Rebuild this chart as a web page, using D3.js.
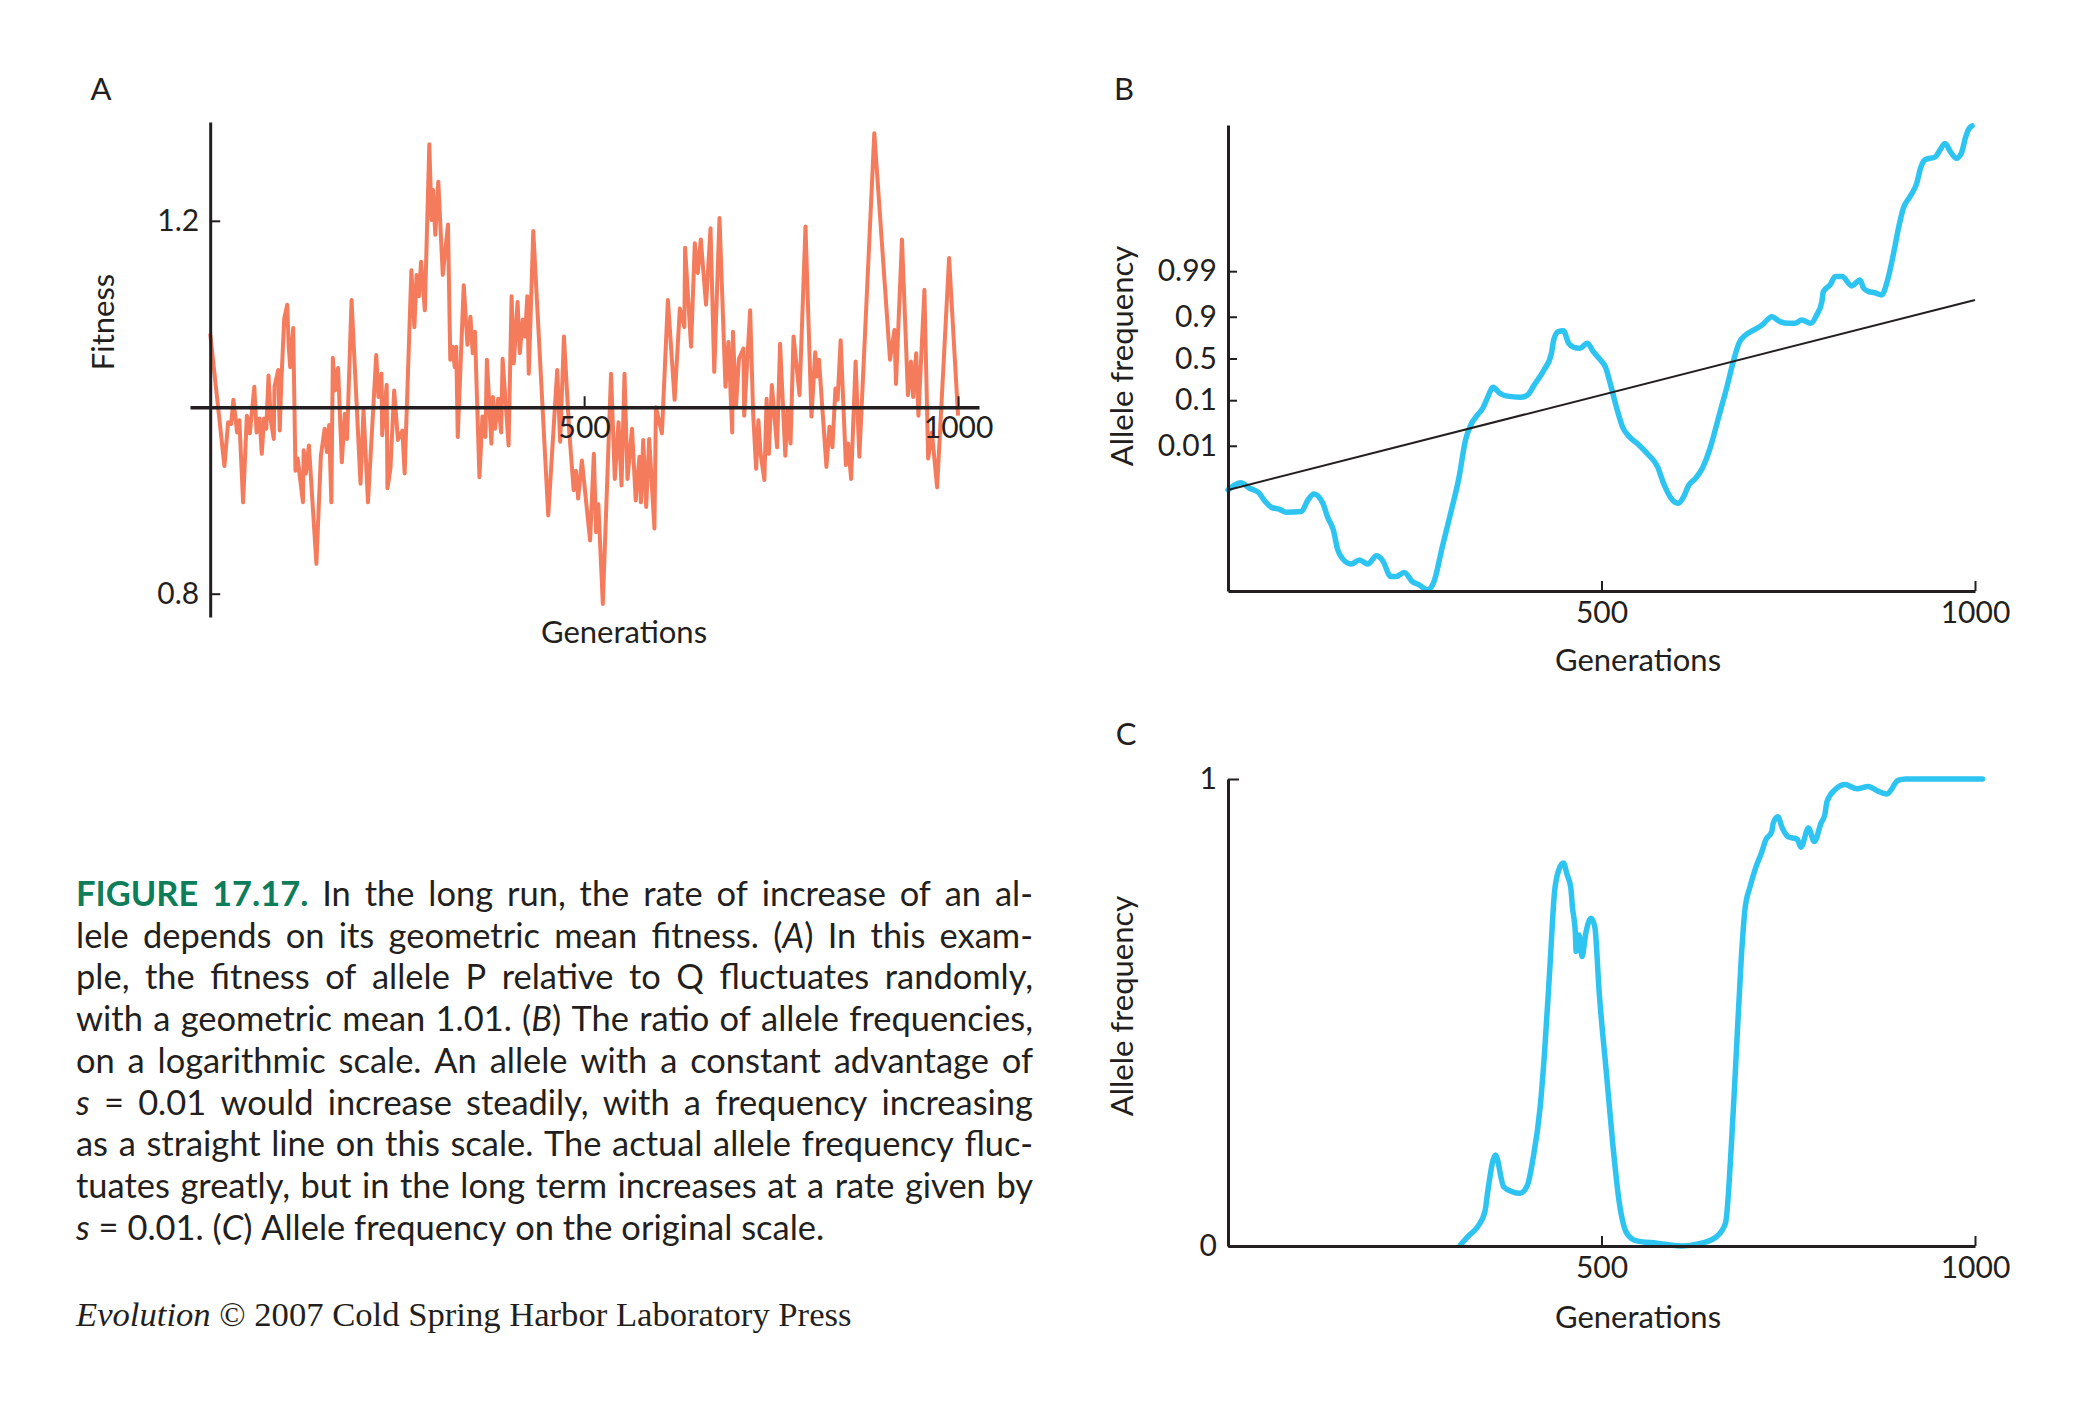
<!DOCTYPE html>
<html>
<head>
<meta charset="utf-8">
<script src="https://cdn.jsdelivr.net/npm/d3@7"></script>
<style>
  body { margin: 0; background: #fff; }
  svg text { font-family: Lato, "Open Sans", sans-serif; fill: #231f20; }
  .axis path, .axis line { stroke: #231f20; }
  .axis text { font-family: Lato, "Open Sans", sans-serif; font-size: 30px; fill: #231f20; }
</style>
</head>
<body>
<svg id="fig" width="2085" height="1413"></svg>
<script>
// panel A: relative fitness of P
const fitnessGen = [0,19,24,28,31,36,39,44,49,53,59,62,66,69,72,75,78,81,85,86,91,93,95,99,103,105,107,111,114,117,
  120,124,125,128,132,142,148,153,156,159,162,164,167,171,176,180,183,189,201,205,211,222,225,229,230,236,237,241,246,251,
  257,260,269,273,276,279,282,287,293,296,298,301,305,311,318,321,324,327,329,331,339,344,348,351,354,360,364,368,370,376,
  378,381,385,389,391,399,403,406,411,414,418,421,424,426,432,452,464,468,473,480,486,489,492,497,508,
  513,516,519,525,536,541,546,550,554,558,564,569,574,576,579,583,587,594,596,604,612,621,628,634,635,643,648,652,656,663,
  669,674,681,689,693,698,699,703,707,713,714,722,726,730,733,736,741,744,747,751,758,762,
  769,772,776,780,784,788,796,804,809,811,814,824,828,832,836,839,843,850,853,857,863,868,888,909,915,917,925,933,937,940,
  944,947,955,960,965,972,988,1000];
const fitness = [1.079,0.937,0.984,0.982,1.008,0.973,0.986,0.898,0.991,0.972,1.022,0.973,0.988,0.950,0.988,0.977,1.034,0.986,0.966,1.022,
  1.040,0.975,1.025,1.095,1.110,1.065,1.043,1.085,0.932,0.945,0.925,0.898,0.954,0.929,0.959,0.832,0.948,0.977,0.952,0.981,
  0.898,1.053,1.018,1.042,0.941,0.993,0.966,1.115,0.918,0.997,0.898,1.056,1.011,1.036,0.970,1.024,0.913,0.934,1.018,0.965,
  0.975,0.929,1.147,1.086,1.142,1.119,1.156,1.104,1.282,1.201,1.233,1.185,1.242,1.142,1.196,1.051,1.065,1.043,1.065,0.968,
  1.131,1.067,1.097,1.058,1.081,0.925,0.990,0.968,1.051,0.961,1.011,0.977,1.009,0.973,1.052,0.959,1.119,1.047,1.113,1.058,
  1.094,1.076,1.119,1.036,1.189,0.884,1.040,0.963,1.076,0.975,0.911,0.932,0.902,0.943,0.857,
  0.950,0.866,0.896,0.789,1.036,0.923,0.984,0.916,1.036,0.923,0.977,0.900,0.947,0.898,0.965,0.893,0.966,0.870,1.000,0.972,
  1.115,1.008,1.106,1.086,1.171,1.065,1.176,1.144,1.180,1.110,1.192,1.038,1.203,1.022,1.070,0.973,1.081,1.000,1.052,1.063,
  0.991,1.104,0.993,0.934,0.986,0.950,0.922,1.009,0.950,1.024,0.957,1.068,
  0.948,0.997,0.961,1.076,1.045,1.013,1.194,0.990,1.059,1.033,1.051,0.936,0.979,0.957,1.020,1.008,1.072,0.938,0.961,0.923,
  1.049,0.947,1.294,1.051,1.083,1.025,1.180,1.013,1.049,1.011,1.058,0.991,1.126,0.945,0.973,0.914,1.160,0.991];

// panel B: ln(p/q), the log ratio of allele frequencies
const ratioGen = [0,17,29,41,50,58,69,78,98,107,115,127,133,141,147,153,165,176,187,199,207,218,225,236,247,256,267,275,287,298,
  309,318,325,334,341,347,355,363,372,392,401,410,423,433,436,442,449,456,463,471,481,489,499,505,514,521,528,537,550,563,
  575,583,595,603,610,617,626,635,646,657,668,677,684,693,704,715,728,739,751,759,768,780,788,795,797,806,813,822,835,846,
  851,858,866,875,883,891,898,904,913,922,927,933,947,953,960,967,975,982,987,991,996];
const logRatio = [-6.92,-6.54,-6.83,-7.06,-7.54,-7.83,-7.94,-8.10,-8.06,-7.45,-7.13,-7.62,-8.32,-9.03,-10.08,-10.52,-10.82,-10.61,-10.82,-10.39,
  -10.64,-11.48,-11.48,-11.27,-11.75,-11.92,-12.18,-11.83,-9.90,-8.15,-6.31,-4.29,-3.50,-2.97,-2.62,-2.10,-1.52,-1.80,-1.97,-2.04,
  -1.92,-1.39,-0.61,0.27,0.97,1.41,1.46,0.80,0.59,0.54,0.80,0.36,-0.10,-0.43,-1.66,-2.71,-3.59,-4.11,-4.55,-5.08,
  -5.69,-6.57,-7.45,-7.62,-7.27,-6.66,-6.31,-5.78,-4.64,-3.06,-1.48,-0.08,0.80,1.24,1.50,1.76,2.20,1.94,1.85,1.85,
  2.03,1.85,2.29,2.99,3.52,3.87,4.31,4.31,3.82,4.13,3.69,3.52,3.46,3.34,4.13,5.54,6.94,7.90,8.52,9.22,
  10.01,10.45,10.62,10.97,11.32,10.89,10.54,10.83,11.59,12.03,12.24];
// constant advantage s = 0.01
const expectedGen = [0, 1000];
const expectedLogRatio = [-6.92, 3.08];

// panel C: allele frequency on the original scale
const freqGen = [311,321,334,344,348,358,369,381,391,401,408,418,424,431,437,443,449,454,459,461,
  465,466,470,474,479,486,491,497,507,515,524,534,547,574,607,634,654,666,674,680,
  687,692,699,707,714,720,728,730,736,742,750,762,767,777,785,794,799,802,814,826,
  842,857,870,882,897,907,1010];
const freq = [0.002,0.020,0.041,0.074,0.120,0.195,0.127,0.116,0.113,0.131,0.184,0.299,0.420,0.599,0.756,0.806,0.820,0.795,0.766,0.727,
  0.670,0.631,0.666,0.620,0.670,0.702,0.684,0.541,0.363,0.220,0.091,0.027,0.011,0.006,0.000,0.006,0.020,0.049,0.220,0.399,
  0.613,0.720,0.770,0.813,0.841,0.870,0.888,0.906,0.919,0.895,0.876,0.871,0.854,0.895,0.866,0.906,0.924,0.952,0.979,0.988,
  0.979,0.984,0.974,0.968,0.997,1.0,1.0];

const fitnessTicks = [0.8, 1.2];
const genTicks = [500, 1000];
const ratioTicks = [0.01, 0.1, 0.5, 0.9, 0.99];
const freqTicks = [0, 1];

const captionLines = [
  "#FIGURE 17.17.# In the long run, the rate of increase of an al-",
  "lele depends on its geometric mean fitness. (*A*) In this exam-",
  "ple, the fitness of allele P relative to Q fluctuates randomly,",
  "with a geometric mean 1.01. (*B*) The ratio of allele frequencies,",
  "on a logarithmic scale. An allele with a constant advantage of",
  "*s* = 0.01 would increase steadily, with a frequency increasing",
  "as a straight line on this scale. The actual allele frequency fluc-",
  "tuates greatly, but in the long term increases at a rate given by",
  "*s* = 0.01. (*C*) Allele frequency on the original scale."
];

const orange = "#f47c5c";
const blue = "#2ec4f2";
const ink = "#231f20";
const green = "#0d7d5a";

const svg = d3.select("#fig");
const logit = p => Math.log(p / (1 - p));
const genFormat = d3.format("d");

// ---------- panel A ----------
const xA = d3.scaleLinear().domain([-27, 1028]).range([190, 979]);
const yA = d3.scaleLinear().domain([0.775, 1.306]).range([617, 122]);

svg.append("path")
  .datum(fitnessGen.map((g, i) => [g, fitness[i]]))
  .attr("fill", "none")
  .attr("stroke", orange)
  .attr("stroke-width", 4)
  .attr("stroke-linejoin", "round")
  .attr("d", d3.line().x(d => xA(d[0])).y(d => yA(d[1])));

const axA = svg.append("g").attr("class", "axis")
  .attr("transform", `translate(${xA(0)},0)`)
  .call(d3.axisRight(yA).tickValues(fitnessTicks).tickFormat(d3.format(".1f")).tickSize(10).tickSizeOuter(0));
axA.select(".domain").attr("stroke-width", 3);
axA.selectAll(".tick line").attr("stroke-width", 2);
axA.selectAll(".tick text").attr("x", -11).attr("text-anchor", "end");

const bxA = svg.append("g").attr("class", "axis")
  .attr("transform", `translate(0,${yA(1)})`)
  .call(d3.axisBottom(xA).tickValues(genTicks).tickFormat(genFormat).tickSize(-11).tickPadding(9).tickSizeOuter(0));
bxA.select(".domain").attr("stroke-width", 3.5);
bxA.selectAll(".tick line").attr("stroke-width", 2);

// ---------- panel B ----------
const xB = d3.scaleLinear().domain([0, 1000]).range([1228, 1975]);
const yB = d3.scaleLinear().domain([-12.24, 12.29]).range([591, 125]);

svg.append("path")
  .datum(ratioGen.map((g, i) => [g, logRatio[i]]))
  .attr("fill", "none")
  .attr("stroke", blue)
  .attr("stroke-width", 5.5)
  .attr("stroke-linecap", "round")
  .attr("d", d3.line().curve(d3.curveMonotoneX).x(d => xB(d[0])).y(d => yB(d[1])));

svg.append("path")
  .datum(expectedGen.map((g, i) => [g, expectedLogRatio[i]]))
  .attr("fill", "none")
  .attr("stroke", ink)
  .attr("stroke-width", 2)
  .attr("d", d3.line().x(d => xB(d[0])).y(d => yB(d[1])));

const ayB = svg.append("g").attr("class", "axis")
  .attr("transform", `translate(${xB(0)},0)`)
  .call(d3.axisRight(yB).tickValues(ratioTicks.map(logit))
    .tickFormat((d, i) => String(ratioTicks[i])).tickSize(9).tickSizeOuter(0));
ayB.select(".domain").attr("stroke-width", 3);
ayB.selectAll(".tick line").attr("stroke-width", 2);
ayB.selectAll(".tick text").attr("x", -11).attr("text-anchor", "end");

const axB = svg.append("g").attr("class", "axis")
  .attr("transform", `translate(0,${yB.range()[0]})`)
  .call(d3.axisBottom(xB).tickValues(genTicks).tickFormat(genFormat).tickSize(-10).tickPadding(11).tickSizeOuter(0));
axB.select(".domain").attr("stroke-width", 3);
axB.selectAll(".tick line").attr("stroke-width", 2);

// ---------- panel C ----------
const xC = d3.scaleLinear().domain([0, 1000]).range([1228, 1975]);
const yC = d3.scaleLinear().domain([0, 1]).range([1246, 779]);

svg.append("path")
  .datum(freqGen.map((g, i) => [g, freq[i]]))
  .attr("fill", "none")
  .attr("stroke", blue)
  .attr("stroke-width", 5.5)
  .attr("stroke-linecap", "round")
  .attr("d", d3.line().curve(d3.curveMonotoneX).x(d => xC(d[0])).y(d => yC(d[1])));

const ayC = svg.append("g").attr("class", "axis")
  .attr("transform", `translate(${xC(0)},0)`)
  .call(d3.axisRight(yC).tickValues(freqTicks).tickFormat(d3.format("d")).tickSize(11).tickSizeOuter(0));
ayC.select(".domain").attr("stroke-width", 3);
ayC.selectAll(".tick line").attr("stroke-width", 2);
ayC.selectAll(".tick text").attr("x", -11).attr("text-anchor", "end");

const axC = svg.append("g").attr("class", "axis")
  .attr("transform", `translate(0,${yC(0)})`)
  .call(d3.axisBottom(xC).tickValues(genTicks).tickFormat(genFormat).tickSize(-10).tickPadding(11).tickSizeOuter(0));
axC.select(".domain").attr("stroke-width", 3);
axC.selectAll(".tick line").attr("stroke-width", 2);

// ---------- panel letters and axis titles ----------
[["A", 101, 100], ["B", 1124, 100], ["C", 1126, 745]].forEach(([t, x, y]) => {
  svg.append("text").attr("x", x).attr("y", y).attr("text-anchor", "middle")
    .style("font-size", "31px").text(t);
});

[[624, 643], [1638, 671], [1638, 1328]].forEach(([x, y]) => {
  svg.append("text").attr("x", x).attr("y", y).attr("text-anchor", "middle")
    .style("font-size", "31px").text("Generations");
});

[["Fitness", 102, 322], ["Allele frequency", 1121, 356], ["Allele frequency", 1121, 1006]].forEach(([t, x, y]) => {
  svg.append("text")
    .attr("transform", `translate(${x},${y}) rotate(-90)`)
    .attr("text-anchor", "middle")
    .attr("dominant-baseline", "central")
    .style("font-size", "31px")
    .text(t);
});

// ---------- caption (justified) ----------
const capLeft = 76, capWidth = 957, capTop = 906, capLead = 41.7, lastLineWidth = 795;

function parseLine(str) {
  const words = [];
  let cur = [], style = "n", buf = "";
  const flush = () => { if (buf) { cur.push({ t: buf, s: style }); buf = ""; } };
  for (const ch of str) {
    if (ch === "#") { flush(); style = style === "b" ? "n" : "b"; }
    else if (ch === "*") { flush(); style = style === "i" ? "n" : "i"; }
    else if (ch === " ") { flush(); if (cur.length) words.push(cur); cur = []; }
    else buf += ch;
  }
  flush();
  if (cur.length) words.push(cur);
  return words;
}

function drawCaption(size) {
  const g = svg.append("g").style("font-size", size + "px");
  const probe = g.append("text").text("n n");
  const w1 = probe.node().getComputedTextLength();
  probe.text("nn");
  const spaceW = w1 - probe.node().getComputedTextLength();
  probe.remove();
  const natural = [];
  captionLines.map(parseLine).forEach((words, i) => {
    const y = capTop + i * capLead;
    const nodes = words.map(parts => {
      const t = g.append("text").attr("y", y);
      parts.forEach(p => {
        const ts = t.append("tspan").text(p.t);
        if (p.s === "i") ts.style("font-style", "italic");
        if (p.s === "b") ts.style("font-weight", "700").style("fill", green);
      });
      return t;
    });
    const widths = nodes.map(t => t.node().getComputedTextLength());
    const total = d3.sum(widths);
    const last = i === captionLines.length - 1;
    natural.push(total + spaceW * (nodes.length - 1));
    const gap = last ? spaceW : (capWidth - total) / (nodes.length - 1);
    let x = capLeft;
    nodes.forEach((t, j) => { t.attr("x", x); x += widths[j] + gap; });
  });
  return { g, natural };
}

// size the caption so the last line keeps its width but no justified line gets cramped
const trial = drawCaption(30);
const fitLast = lastLineWidth / trial.natural[trial.natural.length - 1];
const fitWide = capWidth * 0.985 / d3.max(trial.natural.slice(0, -1));
const capSize = 30 * Math.min(fitLast, fitWide);
trial.g.remove();
drawCaption(capSize);

// ---------- credit line ----------
const credit = svg.append("text")
  .attr("x", capLeft).attr("y", 1326)
  .style("font-family", "'Liberation Serif', 'DejaVu Serif', serif")
  .style("font-size", "30px");
credit.append("tspan").style("font-style", "italic").text("Evolution");
credit.append("tspan").text(" \u00a9 2007 Cold Spring Harbor Laboratory Press");
const cw = credit.node().getComputedTextLength();
credit.style("font-size", (30 * 776 / cw) + "px");
</script>
</body>
</html>
